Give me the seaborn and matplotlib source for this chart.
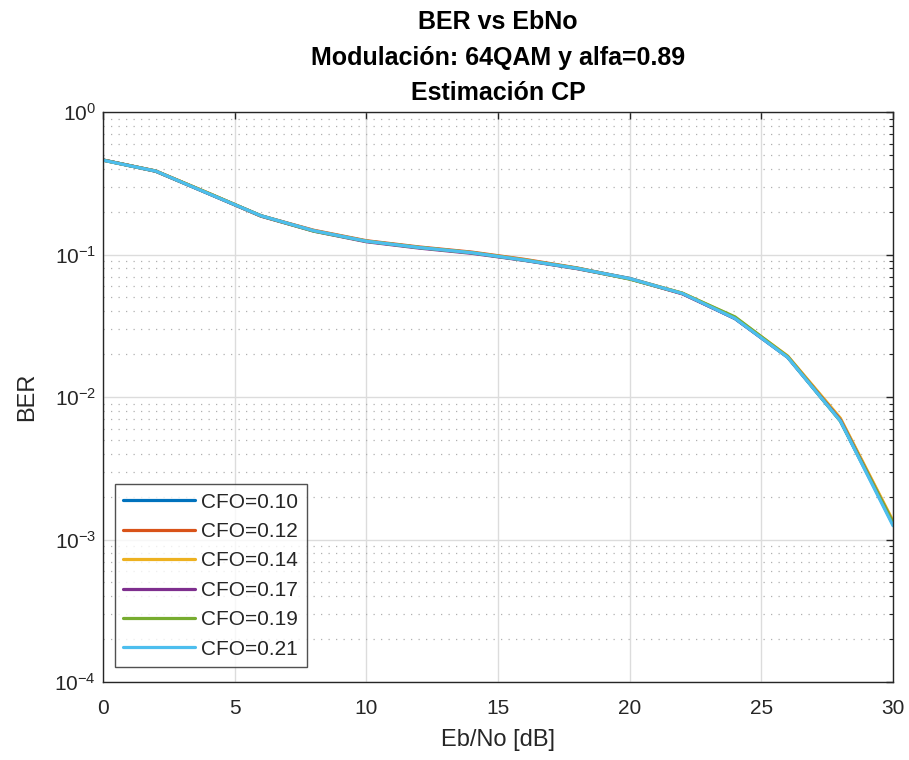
import numpy as np
import pandas as pd
import matplotlib
matplotlib.use("Agg")
import matplotlib.pyplot as plt
import seaborn as sns
from matplotlib.ticker import LogLocator, NullFormatter

# Eb/No en dB
ebno = [0, 2, 4, 6, 8, 10, 12, 14, 16, 18, 20, 22, 24, 26, 28, 30]

# BER por cada CFO
ber_010 = [0.460, 0.385, 0.268, 0.187, 0.147, 0.124, 0.112, 0.103, 0.0912, 0.0800, 0.0680, 0.0534, 0.0355, 0.0190, 0.0068, 0.00128]
ber_012 = [0.460, 0.386, 0.269, 0.187, 0.148, 0.125, 0.113, 0.104, 0.0925, 0.0805, 0.0675, 0.0532, 0.0358, 0.0192, 0.0070, 0.00132]
ber_014 = [0.460, 0.385, 0.270, 0.186, 0.147, 0.124, 0.112, 0.103, 0.0918, 0.0798, 0.0678, 0.0536, 0.0362, 0.0194, 0.0071, 0.00135]
ber_017 = [0.461, 0.384, 0.268, 0.186, 0.146, 0.123, 0.111, 0.102, 0.0910, 0.0796, 0.0676, 0.0530, 0.0356, 0.0191, 0.0069, 0.00130]
ber_019 = [0.460, 0.385, 0.269, 0.187, 0.146, 0.124, 0.112, 0.103, 0.0915, 0.0802, 0.0672, 0.0535, 0.0365, 0.0192, 0.0068, 0.00131]
ber_021 = [0.459, 0.385, 0.268, 0.187, 0.147, 0.124, 0.112, 0.103, 0.0914, 0.0800, 0.0678, 0.0533, 0.0356, 0.0190, 0.0068, 0.00125]

cfo_labels = ["CFO=0.10", "CFO=0.12", "CFO=0.14", "CFO=0.17", "CFO=0.19", "CFO=0.21"]
series = [ber_010, ber_012, ber_014, ber_017, ber_019, ber_021]
colores = ["#0072BD", "#D95319", "#EDB120", "#7E2F8E", "#77AC30", "#4DBEEE"]

df = pd.concat([pd.DataFrame({"EbNo": ebno, "BER": s, "CFO": lab})
                for s, lab in zip(series, cfo_labels)], ignore_index=True)

sns.set_theme(style="white")
plt.rcParams["font.family"] = ["Liberation Sans", "DejaVu Sans"]
plt.rcParams["mathtext.fontset"] = "custom"
plt.rcParams["mathtext.rm"] = "Liberation Sans"
plt.rcParams["mathtext.it"] = "Liberation Sans:italic"
plt.rcParams["mathtext.bf"] = "Liberation Sans:bold"

fig = plt.figure(figsize=(9.09, 7.6), dpi=100)
ax = fig.add_axes([0.1133, 0.1026, 0.8691, 0.75])

sns.lineplot(data=df, x="EbNo", y="BER", hue="CFO", palette=colores,
             linewidth=2.3, ax=ax)

ax.set_yscale("log")
ax.set_xlim(0, 30)
ax.set_ylim(1e-4, 1)
ax.set_xticks([0, 5, 10, 15, 20, 25, 30])
ax.yaxis.set_major_locator(LogLocator(base=10, numticks=10))
ax.yaxis.set_minor_locator(LogLocator(base=10, subs=np.arange(2, 10), numticks=10))
ax.yaxis.set_minor_formatter(NullFormatter())

# rejilla estilo MATLAB
ax.grid(True, which="major", axis="both", color="#dcdcdc", linewidth=1, linestyle="-")
ax.grid(True, which="minor", axis="y", color="#b0b0b0", linewidth=0.9, linestyle=(0, (1, 5)))
ax.set_axisbelow(True)

ax.tick_params(which="both", direction="in", top=True, right=True,
               colors="#262626", labelsize=15)
ax.tick_params(axis="x", which="major", pad=12)
ax.tick_params(axis="y", which="major", pad=5)
ax.tick_params(which="major", length=5, width=1)
ax.tick_params(which="minor", length=3, width=0.8)
for sp in ax.spines.values():
    sp.set_color("#262626")
    sp.set_linewidth(1)

ax.set_xlabel("Eb/No [dB]", fontsize=17, color="#262626", labelpad=8)
ax.set_ylabel("BER", fontsize=17, color="#262626", labelpad=12)
ax.set_title("BER vs EbNo\nModulación: 64QAM y alfa=0.89\nEstimación CP",
             fontsize=18, fontweight="bold", color="black", linespacing=1.58, pad=9)

leg = ax.legend(loc="lower left", bbox_to_anchor=(0.0152, 0.0263), borderaxespad=0,
                fontsize=15, frameon=True, fancybox=False, handlelength=3.45,
                borderpad=0.4, labelspacing=0.5, handletextpad=0.3)
leg.get_frame().set_edgecolor("#262626")
leg.get_frame().set_linewidth(1)
for t in leg.get_texts():
    t.set_color("#262626")

fig.savefig("out.png", dpi=100)
